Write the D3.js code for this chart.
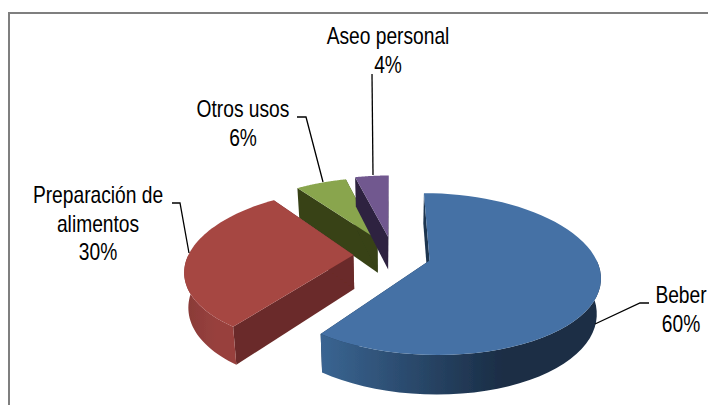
<!DOCTYPE html>
<html><head><meta charset="utf-8"><script src="https://cdn.jsdelivr.net/npm/d3@7"></script>
<style>html,body{margin:0;padding:0;background:#fff}svg{display:block}text{font-family:"Liberation Sans",sans-serif;font-size:24px;fill:#000}</style></head>
<body><svg id="c" width="708" height="405"></svg>
<script>
const categories=["Beber","Preparación de alimentos","Otros usos","Aseo personal"];
const values=[60,30,6,4];
const explode=[0.23,0.24,0.23,0.25];
const topColors=["#4471a5","#a64643","#89a54e","#71588f"];
const wallColors=["#1f3550","#6b2b29","#374219","#2d2440"];
const rimLeft=["#3a6592","#883a37","#6b8040","#5a4672"];
const rimRight=["#1a2d45","#98413e","#5a6c30","#4a3a60"];
const labelLines=[["Beber","60%"],["Preparación de","alimentos","30%"],["Otros usos","6%"],["Aseo personal","4%"]];
const labelPos=[[681,303],[98,203],[243,117],[388,44]];
const leaders=[[[595,324],[640,303],[649,303]],[[172,203],[180,203],[189,253]],[[297,117],[306,117],[323,182]],[[372,74],[373,175]]];

const svg=d3.select("#c");
const X0=393,Y0=255,a=165,b=76.8,px=.18,py=.165,depth=34,taper=.98;
const proj=(X,Y)=>[X0+a*X/(1-px*Y),Y0+b*Y/(1-py*Y)];
const drop=(Y)=>depth/(1-py*Y*.8);
const pie=d3.pie().sort(null).value(d=>d);
const arcs=pie(values);
const defs=svg.append("defs");
defs.append("filter").attr("id","soft").append("feGaussianBlur").attr("stdDeviation",0.45);
const line=d3.line();
function geom(d,i){
  const mid=(d.startAngle+d.endAngle)/2,e=explode[i];
  const Dx=e*Math.sin(mid),Dy=-e*Math.cos(mid);
  const pt=(t,r=1)=>{const X=Dx+r*Math.sin(t),Y=Dy-r*Math.cos(t);return {p:proj(X,Y),Y};};
  const samples=d3.range(0,61).map(k=>d.startAngle+(d.endAngle-d.startAngle)*k/60);
  return {pt,samples,apex:{p:proj(Dx,Dy),Y:Dy}};
}
const down=q=>[X0+(q.p[0]-X0)*taper,q.p[1]+drop(q.Y)];
svg.append("path").attr("d",line([[9,405],[9,13],[708,13]])).attr("fill","none").attr("stroke","#7f7f7f").attr("stroke-width",2);
const layer=svg.append("g").attr("filter","url(#soft)");
[2,3,1,0].forEach(i=>{
  const d=arcs[i],g=geom(d,i);
  const out=g.samples.map(t=>g.pt(t));
  [0,g.samples.length-1].forEach(k=>{
    const q=out[k];
    layer.append("path").attr("d",line([g.apex.p,q.p,down(q),down(g.apex)])+"Z").attr("fill",wallColors[i]);
  });
  const front=out.filter((q,k)=>Math.abs(g.samples[k]-Math.PI)<Math.PI/2+0.03);
  if(front.length>1){
    const id="rim"+i;
    const xs=d3.extent(front,q=>q.p[0]);
    const gr=defs.append("linearGradient").attr("id",id).attr("gradientUnits","userSpaceOnUse").attr("x1",xs[0]).attr("x2",xs[1]).attr("y1",0).attr("y2",0);
    gr.append("stop").attr("offset",0).attr("stop-color",rimLeft[i]);
    gr.append("stop").attr("offset",.65).attr("stop-color",rimRight[i]);
    gr.append("stop").attr("offset",1).attr("stop-color",rimRight[i]);
    layer.append("path").attr("d",line([...front.map(q=>q.p),...front.slice().reverse().map(down)])+"Z").attr("fill",`url(#${id})`);
  }
  layer.append("path").attr("d",line([g.apex.p,...out.map(q=>q.p)])+"Z").attr("fill",topColors[i]);
});
leaders.forEach(l=>svg.append("path").attr("d",line(l)).attr("fill","none").attr("stroke","#000").attr("stroke-width",1.3));
labelLines.forEach((ls,i)=>{
  ls.forEach((s,k)=>svg.append("text").attr("text-anchor","middle")
    .attr("transform",`translate(${labelPos[i][0]},${labelPos[i][1]+k*28.5}) scale(.8,1)`).text(s));
});
</script></body></html>
